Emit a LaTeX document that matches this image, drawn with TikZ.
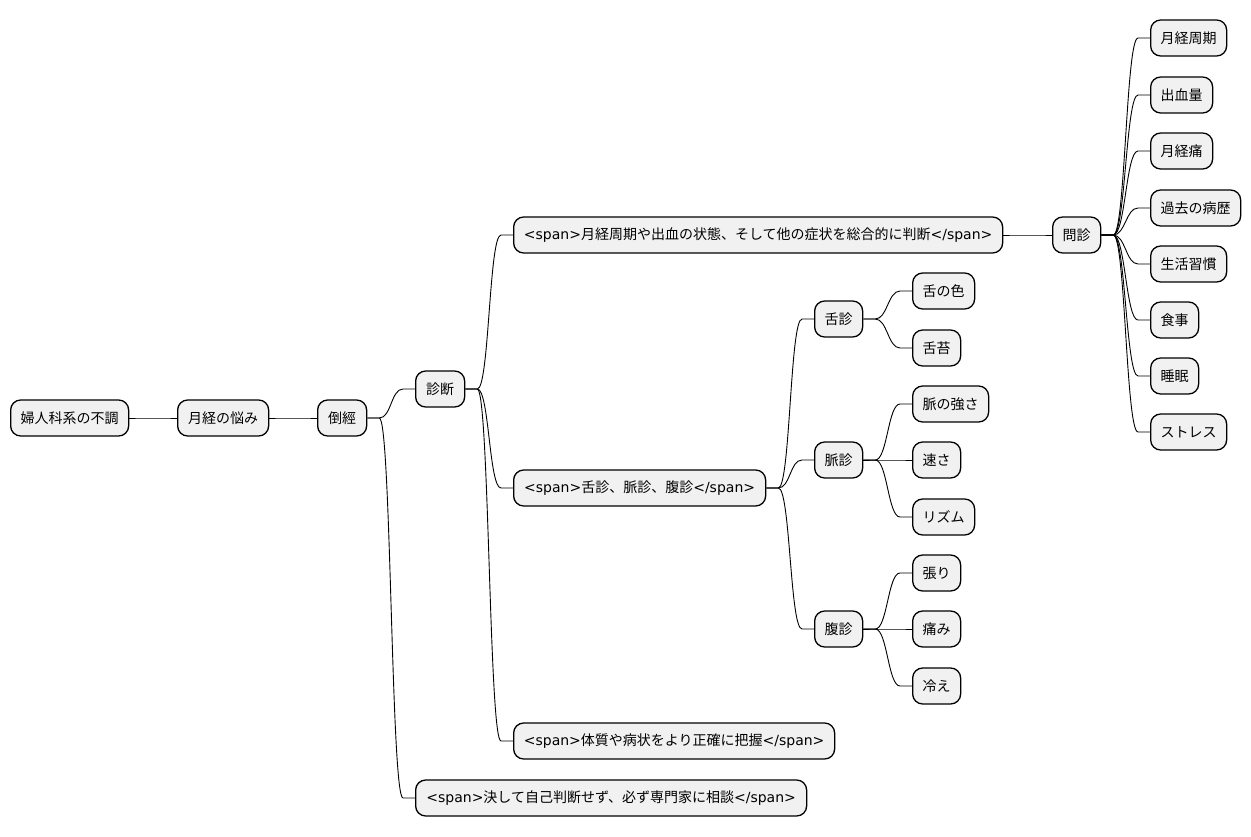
\documentclass[tikz,border=0pt]{standalone}
\usepackage{fontspec}
\setmainfont{DejaVu Sans}
\newfontfamily\jp{Noto Sans CJK JP}
\definecolor{boxfill}{HTML}{F1F1F1}
\newcommand\spanO{{\rmfamily <span>}}
\newcommand\spanC{{\rmfamily </span>}}
\tikzset{
  mm/.style={draw=black, line width=1.3pt, fill=boxfill, rounded corners=10pt,
    minimum height=36pt, inner xsep=0pt, inner ysep=0pt, anchor=west,
    font=\fontsize{14}{16}\selectfont\jp, text=black},
  edge/.style={draw=black, line width=0.9pt}
}
\newcommand\conn[2]{\draw[edge] (#1.east) -- ++(12,0) to[out=0,in=180,distance=12pt] ([xshift=-12pt]#2.west) -- (#2.west);}
\begin{document}
\begin{tikzpicture}[x=1pt,y=-1pt]
\path[use as bounding box] (0,0) rectangle (1251,837);
% main chain
\node[mm, minimum width=118pt] (root) at (10,418) {婦人科系の不調};
\node[mm, minimum width=91pt] (m1) at (177,418) {月経の悩み};
\node[mm, minimum width=49pt] (m2) at (317,418) {倒經};
\node[mm, minimum width=49pt] (d) at (415,389) {診断};
\node[mm, minimum width=489pt] (s1) at (513,235) {\spanO 月経周期や出血の状態、そして他の症状を総合的に判断\spanC};
\node[mm, minimum width=48pt] (q) at (1052,235) {問診};
\node[mm, minimum width=76pt] (q1) at (1150,38) {月経周期};
\node[mm, minimum width=62pt] (q2) at (1150,95) {出血量};
\node[mm, minimum width=62pt] (q3) at (1150,151) {月経痛};
\node[mm, minimum width=90pt] (q4) at (1150,208) {過去の病歴};
\node[mm, minimum width=76pt] (q5) at (1150,264) {生活習慣};
\node[mm, minimum width=48pt] (q6) at (1150,320) {食事};
\node[mm, minimum width=48pt] (q7) at (1150,376) {睡眠};
\node[mm, minimum width=76pt] (q8) at (1150,432) {ストレス};
\node[mm, minimum width=252pt] (s2) at (513,488) {\spanO 舌診、脈診、腹診\spanC};
\node[mm, minimum width=48pt] (t) at (814,319) {舌診};
\node[mm, minimum width=62pt] (t1) at (912,291) {舌の色};
\node[mm, minimum width=48pt] (t2) at (912,348) {舌苔};
\node[mm, minimum width=48pt] (p) at (814,460) {脈診};
\node[mm, minimum width=76pt] (p1) at (912,404) {脈の強さ};
\node[mm, minimum width=48pt] (p2) at (912,460) {速さ};
\node[mm, minimum width=62pt] (p3) at (912,517) {リズム};
\node[mm, minimum width=48pt] (h) at (814,629) {腹診};
\node[mm, minimum width=48pt] (h1) at (912,573) {張り};
\node[mm, minimum width=48pt] (h2) at (912,629) {痛み};
\node[mm, minimum width=48pt] (h3) at (912,686) {冷え};
\node[mm, minimum width=321pt] (s3) at (513,741) {\spanO 体質や病状をより正確に把握\spanC};
\node[mm, minimum width=391pt] (s4) at (415,798) {\spanO 決して自己判断せず、必ず専門家に相談\spanC};
% connectors
\conn{root}{m1}
\conn{m1}{m2}
\conn{m2}{d}
\conn{m2}{s4}
\conn{d}{s1}
\conn{d}{s2}
\conn{d}{s3}
\conn{s1}{q}
\conn{q}{q1}
\conn{q}{q2}
\conn{q}{q3}
\conn{q}{q4}
\conn{q}{q5}
\conn{q}{q6}
\conn{q}{q7}
\conn{q}{q8}
\conn{s2}{t}
\conn{s2}{p}
\conn{s2}{h}
\conn{t}{t1}
\conn{t}{t2}
\conn{p}{p1}
\conn{p}{p2}
\conn{p}{p3}
\conn{h}{h1}
\conn{h}{h2}
\conn{h}{h3}
\end{tikzpicture}
\end{document}
